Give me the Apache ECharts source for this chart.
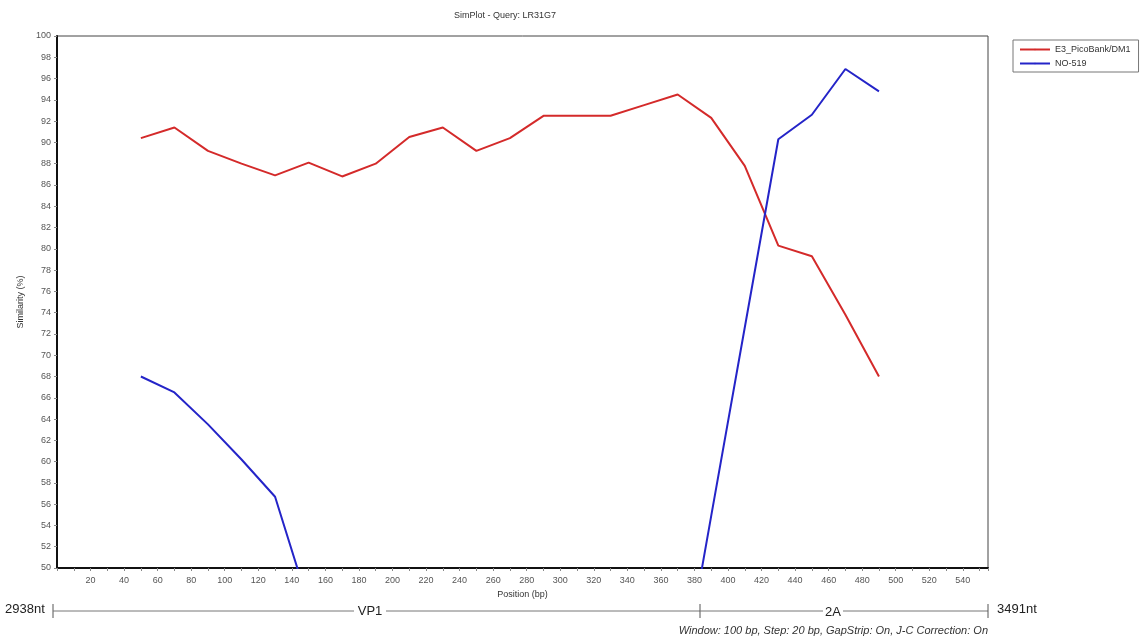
<!DOCTYPE html>
<html>
<head>
<meta charset="utf-8">
<script src="https://cdn.jsdelivr.net/npm/echarts@6/dist/echarts.min.js"></script>
<style>html,body{margin:0;padding:0;background:#fff}#c{width:1146px;height:641px}</style>
</head>
<body>
<div id="c"></div>
<script>
const positions = [50,70,90,110,130,150,170,190,210,230,250,270,290,310,330,350,370,390,410,430,450,470,490];
const seriesNames = ['E3_PicoBank/DM1', 'NO-519'];
const e3Values = [90.4,91.4,89.2,88.0,86.9,88.1,86.8,88.0,90.5,91.4,89.2,90.4,92.5,92.5,92.5,93.5,94.5,92.3,87.8,80.3,79.3,73.8,68.0];
const no519Values = [68.0,66.5,63.5,60.2,56.7,46.6,44.0,42.0,41.0,40.0,39.0,38.5,38.0,37.5,37.5,37.0,37.1,54.9,72.6,90.3,92.6,96.9,94.8];
const titleText = 'SimPlot - Query: LR31G7';
const xAxisName = 'Position (bp)';
const yAxisName = 'Similarity (%)';
const genomeStart = '2938nt';
const genomeEnd = '3491nt';
const regionLabels = ['VP1', '2A'];
const footnote = 'Window: 100 bp, Step: 20 bp, GapStrip: On, J-C Correction: On';

const chart = echarts.init(document.getElementById('c'));
const toPairs = v => positions.map((p, i) => [p, v[i]]);
const fnt = 'Liberation Sans, Arial, sans-serif';

chart.setOption({
  animation: false,
  backgroundColor: '#fff',
  title: {
    text: titleText, left: 500, top: 6, textAlign: 'center',
    textStyle: { fontSize: 9, fontWeight: 'normal', color: '#333', fontFamily: fnt }
  },
  legend: {
    orient: 'vertical', left: 1013, top: 40,
    data: seriesNames,
    itemWidth: 30, itemHeight: 2, itemGap: 5,
    borderColor: '#777', borderWidth: 1, padding: [5, 8, 4, 6],
    textStyle: { fontSize: 9, color: '#333', fontFamily: fnt }
  },
  grid: {
    left: 57, right: 158, top: 36, bottom: 73,
    show: true, borderColor: '#444', borderWidth: 1, backgroundColor: '#fff'
  },
  xAxis: {
    type: 'value', min: 0, max: 555, interval: 20,
    name: xAxisName, nameLocation: 'middle', nameGap: 20,
    nameTextStyle: { fontSize: 9, color: '#333', fontFamily: fnt },
    axisLine: { show: true, lineStyle: { color: '#111', width: 2 } },
    axisTick: { show: true, length: 3, lineStyle: { color: '#888' } },
    minorTick: { show: true, splitNumber: 2, length: 3, lineStyle: { color: '#888' } },
    axisLabel: { fontSize: 9, color: '#555', fontFamily: fnt, showMinLabel: false, showMaxLabel: false, margin: 8 },
    splitLine: { show: false }
  },
  yAxis: {
    type: 'value', min: 50, max: 100, interval: 2,
    name: yAxisName, nameLocation: 'middle', nameGap: 32, nameRotate: 90,
    nameTextStyle: { fontSize: 9, color: '#333', fontFamily: fnt },
    axisLine: { show: true, lineStyle: { color: '#111', width: 2 } },
    axisTick: { show: true, length: 3, lineStyle: { color: '#888' } },
    axisLabel: { fontSize: 9, color: '#555', fontFamily: fnt, margin: 6 },
    splitLine: { show: false }
  },
  series: [
    { name: seriesNames[0], type: 'line', data: toPairs(e3Values), symbol: 'none',
      lineStyle: { color: '#d42a2a', width: 2 }, itemStyle: { color: '#d42a2a' }, clip: true },
    { name: seriesNames[1], type: 'line', data: toPairs(no519Values), symbol: 'none',
      lineStyle: { color: '#2424c8', width: 2 }, itemStyle: { color: '#2424c8' }, clip: true }
  ],
  graphic: [
    { type: 'text', left: 5, top: 603, style: { text: genomeStart, fontSize: 13, fill: '#222', fontFamily: fnt } },
    { type: 'line', shape: { x1: 53, y1: 604, x2: 53, y2: 618 }, style: { stroke: '#555', lineWidth: 1 } },
    { type: 'line', shape: { x1: 53, y1: 611, x2: 354, y2: 611 }, style: { stroke: '#777', lineWidth: 1 } },
    { type: 'text', x: 370, y: 611, style: { text: regionLabels[0], fontSize: 13, fill: '#222', fontFamily: fnt, align: 'center', verticalAlign: 'middle' } },
    { type: 'line', shape: { x1: 386, y1: 611, x2: 700, y2: 611 }, style: { stroke: '#777', lineWidth: 1 } },
    { type: 'line', shape: { x1: 700, y1: 604, x2: 700, y2: 618 }, style: { stroke: '#555', lineWidth: 1 } },
    { type: 'line', shape: { x1: 700, y1: 611, x2: 823, y2: 611 }, style: { stroke: '#777', lineWidth: 1 } },
    { type: 'text', x: 833, y: 612, style: { text: regionLabels[1], fontSize: 13, fill: '#222', fontFamily: fnt, align: 'center', verticalAlign: 'middle' } },
    { type: 'line', shape: { x1: 843, y1: 611, x2: 988, y2: 611 }, style: { stroke: '#777', lineWidth: 1 } },
    { type: 'line', shape: { x1: 988, y1: 604, x2: 988, y2: 618 }, style: { stroke: '#555', lineWidth: 1 } },
    { type: 'text', left: 997, top: 603, style: { text: genomeEnd, fontSize: 13, fill: '#222', fontFamily: fnt } },
    { type: 'text', x: 988, y: 631, style: { text: footnote, fontSize: 11, fontStyle: 'italic', fill: '#333', fontFamily: fnt, align: 'right', verticalAlign: 'middle' } }
  ]
});
</script>
</body>
</html>
